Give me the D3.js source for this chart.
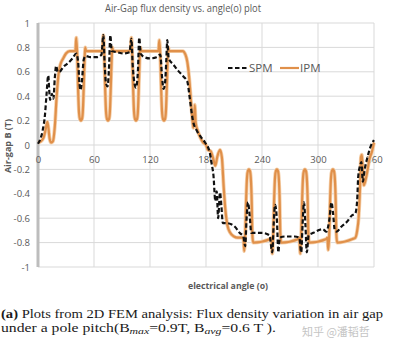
<!DOCTYPE html>
<html><head><meta charset="utf-8">
<script src="https://cdn.jsdelivr.net/npm/d3@7/dist/d3.min.js"></script>
<style>body{margin:0;background:#fff}svg{display:block}</style>
</head><body>
<svg id="c" width="397" height="353"></svg>
<script>
const title = "Air-Gap flux density vs. angle(o) plot";
const xTicks = [0, 60, 120, 180, 240, 300, 360];
const yTicks = [1, 0.8, 0.6, 0.4, 0.2, 0, -0.2, -0.4, -0.6, -0.8, -1];
const yTickLabels = ["1", "0.8", "0.6", "0.4", "0.2", "0", "-0.2", "-0.4", "-0.6", "-0.8", "-1"];
const seriesNames = ["SPM", "IPM"];

const spmAngle = [0,2,5,7.5,9,11,12,13,15,16.5,18,19.5,21,23,27,32,37,41,43,44.5,45.5,47,49,51,56,63,68,70,71.5,73,74.5,76,77.5,79,85,92,98,100,101.5,103.5,105,107,108.5,110,114,120,127,131,133,134.5,136,137.5,138.5,140,145,150,156,160,162,164,166,170,174,179,184,186,188,190,191.5,193,195,196.5,198,202,207,211,216,220,222,223.5,225,227,228.5,232,240,248,251,252.5,254,256,257.5,259,265,275,280,282,283.5,285,286.5,288,290,295,300,305,309,312,314.5,316,318,320,325,331,336,340,342,343,345,346.5,348,350,353,356,360];
const spmB = [0.01,0.04,0.12,0.25,0.4,0.57,0.45,0.37,0.42,0.38,0.55,0.65,0.6,0.6,0.64,0.67,0.71,0.75,0.68,0.5,0.45,0.52,0.7,0.73,0.72,0.72,0.74,0.9,0.65,0.5,0.48,0.62,0.9,0.77,0.76,0.75,0.76,0.87,0.65,0.5,0.47,0.6,0.88,0.75,0.72,0.71,0.72,0.74,0.55,0.46,0.5,0.7,0.86,0.71,0.66,0.61,0.56,0.52,0.42,0.3,0.2,0.12,0.07,0.02,-0.06,-0.15,-0.25,-0.46,-0.38,-0.6,-0.39,-0.5,-0.64,-0.64,-0.65,-0.67,-0.72,-0.75,-0.83,-0.6,-0.47,-0.6,-0.72,-0.72,-0.72,-0.74,-0.88,-0.65,-0.49,-0.62,-0.88,-0.76,-0.75,-0.75,-0.76,-0.88,-0.65,-0.47,-0.65,-0.88,-0.74,-0.72,-0.7,-0.69,-0.71,-0.62,-0.47,-0.55,-0.7,-0.71,-0.67,-0.63,-0.58,-0.56,-0.45,-0.27,-0.17,-0.14,-0.3,-0.2,-0.1,-0.02,0.04];

const ipmAngle = [0,3,6,8,10,11,12.5,14,16,18,20,22,24,27,30,34,40,41,42,43,44,45,46,47,48,49,50,50.6,51.5,69,70,71,72,73,74,75,76,77,78,79,79.6,80.5,99,100,101,102,103,104,105,106,107,108,109,109.6,110.5,129,130,131,132,133,134,135,136,137,138,139,139.6,140.5,155,158,160,162,164,165.5,166.5,168,169,171,174,177,180,182,185,188,190,192,195,197,199,201,203,206,210,214,219,220,221,222,223,224,225,226,227,228,229,229.6,230.5,249,250,251,252,253,254,255,256,257,258,259,259.6,260.5,279,280,281,282,283,284,285,286,287,288,289,289.6,290.5,309,310,311,312,313,314,315,316,317,318,319,319.6,320.5,337,340,342,343.5,345,346,347,348,349,352,355,358,360];
const ipmB = [0.02,0.03,0.06,0.12,0.19,0.15,0.05,0.02,0.03,0.15,0.4,0.58,0.66,0.71,0.75,0.77,0.77,0.88,0.74,0.45,0.26,0.21,0.2,0.21,0.27,0.48,0.72,0.8,0.77,0.77,0.9,0.74,0.45,0.26,0.21,0.2,0.21,0.27,0.48,0.72,0.8,0.77,0.77,0.88,0.74,0.45,0.26,0.21,0.2,0.21,0.27,0.48,0.72,0.8,0.77,0.77,0.86,0.74,0.45,0.26,0.21,0.2,0.21,0.27,0.48,0.72,0.8,0.77,0.77,0.74,0.68,0.55,0.35,0.2,0.14,0.33,0.18,0.12,0.06,0.02,0,-0.04,-0.05,-0.12,-0.17,-0.1,-0.04,-0.1,-0.35,-0.55,-0.66,-0.72,-0.75,-0.76,-0.76,-0.76,-0.87,-0.74,-0.45,-0.26,-0.21,-0.2,-0.21,-0.27,-0.48,-0.72,-0.8,-0.77,-0.76,-0.89,-0.74,-0.45,-0.26,-0.21,-0.2,-0.21,-0.27,-0.48,-0.72,-0.8,-0.77,-0.76,-0.89,-0.74,-0.45,-0.26,-0.21,-0.2,-0.21,-0.27,-0.48,-0.72,-0.8,-0.77,-0.76,-0.86,-0.74,-0.45,-0.26,-0.21,-0.2,-0.21,-0.27,-0.48,-0.72,-0.8,-0.77,-0.76,-0.7,-0.6,-0.35,-0.1,-0.08,-0.2,-0.33,-0.25,-0.12,-0.05,0.02,0.05];

const svg = d3.select("#c");
const x = d3.scaleLinear().domain([0, 360]).range([38, 374]);
const y = d3.scaleLinear().domain([-1, 1]).range([267, 23]);

// gridlines
svg.append("g").selectAll("line").data(yTicks).join("line")
  .attr("x1", x(0)).attr("x2", x(360)).attr("y1", d => y(d)).attr("y2", d => y(d))
  .attr("stroke", "#d9d9d9").attr("stroke-width", 1);
svg.append("g").selectAll("line").data(xTicks.slice(1)).join("line")
  .attr("y1", y(1)).attr("y2", y(-1)).attr("x1", d => x(d)).attr("x2", d => x(d))
  .attr("stroke", "#d9d9d9").attr("stroke-width", 1);
// left axis
svg.append("line").attr("x1", x(0)).attr("x2", x(0)).attr("y1", y(1)).attr("y2", y(-1))
  .attr("stroke", "#bdbdbd").attr("stroke-width", 3);

// y tick labels
const yAxis = d3.axisLeft(y).tickValues(yTicks).tickSize(0).tickPadding(7)
  .tickFormat((d, i) => yTickLabels[i]);
const gy = svg.append("g").attr("transform", `translate(${x(0) - 1},0)`).call(yAxis);
gy.select(".domain").remove();
gy.selectAll("text").attr("font-family", "Open Sans, sans-serif").attr("font-size", 9.5).attr("fill", "#595959");

// x tick labels near zero line
const xAxis = d3.axisBottom(x).tickValues(xTicks).tickSize(0).tickPadding(11).tickFormat(d3.format("d"));
const gx = svg.append("g").attr("transform", `translate(0,${y(0)})`).call(xAxis);
gx.select(".domain").remove();
gx.selectAll("text").attr("font-family", "Open Sans, sans-serif").attr("font-size", 9.5).attr("fill", "#595959");

// series
const line = d3.line().x(d => x(d[0])).y(d => y(d[1])).curve(d3.curveMonotoneX);
const ipmData = ipmAngle.map((a, i) => [a, ipmB[i]]);
const spmData = spmAngle.map((a, i) => [a, spmB[i]]);
svg.append("path").datum(ipmData).attr("d", line).attr("fill", "none")
  .attr("stroke", "#f5d0ab").attr("stroke-width", 3.8).attr("stroke-linejoin", "round");
svg.append("path").datum(ipmData).attr("d", line).attr("fill", "none")
  .attr("stroke", "#e0904a").attr("stroke-width", 2.2).attr("stroke-linejoin", "round");
svg.append("path").datum(spmData).attr("d", line).attr("fill", "none")
  .attr("stroke", "#111").attr("stroke-width", 2.2).attr("stroke-dasharray", "4.5,2.5");

// legend
const lg = svg.append("g");
lg.append("line").attr("x1", 228).attr("x2", 247).attr("y1", 68).attr("y2", 68)
  .attr("stroke", "#111").attr("stroke-width", 2.2).attr("stroke-dasharray", "4.5,2.5");
lg.append("text").attr("x", 249).attr("y", 72).text(seriesNames[0])
  .attr("font-family", "Open Sans, sans-serif").attr("font-size", 11.5).attr("fill", "#595959");
lg.append("line").attr("x1", 280).attr("x2", 299).attr("y1", 68).attr("y2", 68)
  .attr("stroke", "#e0904a").attr("stroke-width", 2.2);
lg.append("text").attr("x", 300).attr("y", 72).text(seriesNames[1])
  .attr("font-family", "Open Sans, sans-serif").attr("font-size", 11.5).attr("fill", "#595959");

// title
svg.append("text").attr("x", 183).attr("y", 12).attr("text-anchor", "middle").text(title)
  .attr("font-family", "Open Sans, sans-serif").attr("font-size", 10).attr("fill", "#595959")
  .attr("textLength", 156).attr("lengthAdjust", "spacingAndGlyphs");

// axis titles
svg.append("text").attr("transform", "translate(11,146) rotate(-90)").attr("text-anchor", "middle")
  .text("Air-gap B (T)").attr("font-family", "Open Sans, sans-serif").attr("font-size", 9)
  .attr("font-weight", "bold").attr("fill", "#595959");
svg.append("text").attr("x", 228).attr("y", 289).attr("text-anchor", "middle")
  .text("electrical angle (o)").attr("font-family", "Open Sans, sans-serif").attr("font-size", 9.5)
  .attr("font-weight", "bold").attr("fill", "#595959")
  .attr("textLength", 80).attr("lengthAdjust", "spacingAndGlyphs");

// caption
const cap1 = svg.append("text").attr("x", 1).attr("y", 318)
  .attr("font-family", "Liberation Serif, serif").attr("font-size", 12).attr("fill", "#1a1a1a")
  .attr("textLength", 382).attr("lengthAdjust", "spacingAndGlyphs");
cap1.append("tspan").attr("font-weight", "bold").text("(a)");
cap1.append("tspan").text(" Plots from 2D FEM analysis: Flux density variation in air gap");
const cap2 = svg.append("text").attr("x", 1).attr("y", 332)
  .attr("font-family", "Liberation Serif, serif").attr("font-size", 12).attr("fill", "#1a1a1a")
  .attr("textLength", 275).attr("lengthAdjust", "spacingAndGlyphs");
cap2.append("tspan").text("under a pole pitch(B");
cap2.append("tspan").attr("font-style", "italic").attr("font-size", 9).attr("dy", 2).text("max");
cap2.append("tspan").attr("dy", -2).text("=0.9T, B");
cap2.append("tspan").attr("font-style", "italic").attr("font-size", 9).attr("dy", 2).text("avg");
cap2.append("tspan").attr("dy", -2).text("=0.6 T ).");

// watermark
svg.append("text").attr("x", 302).attr("y", 336).text("知乎 @潘韬哲")
  .attr("font-family", "Noto Sans CJK SC, sans-serif").attr("font-size", 11).attr("fill", "#c4c4c4");
</script>
</body></html>
